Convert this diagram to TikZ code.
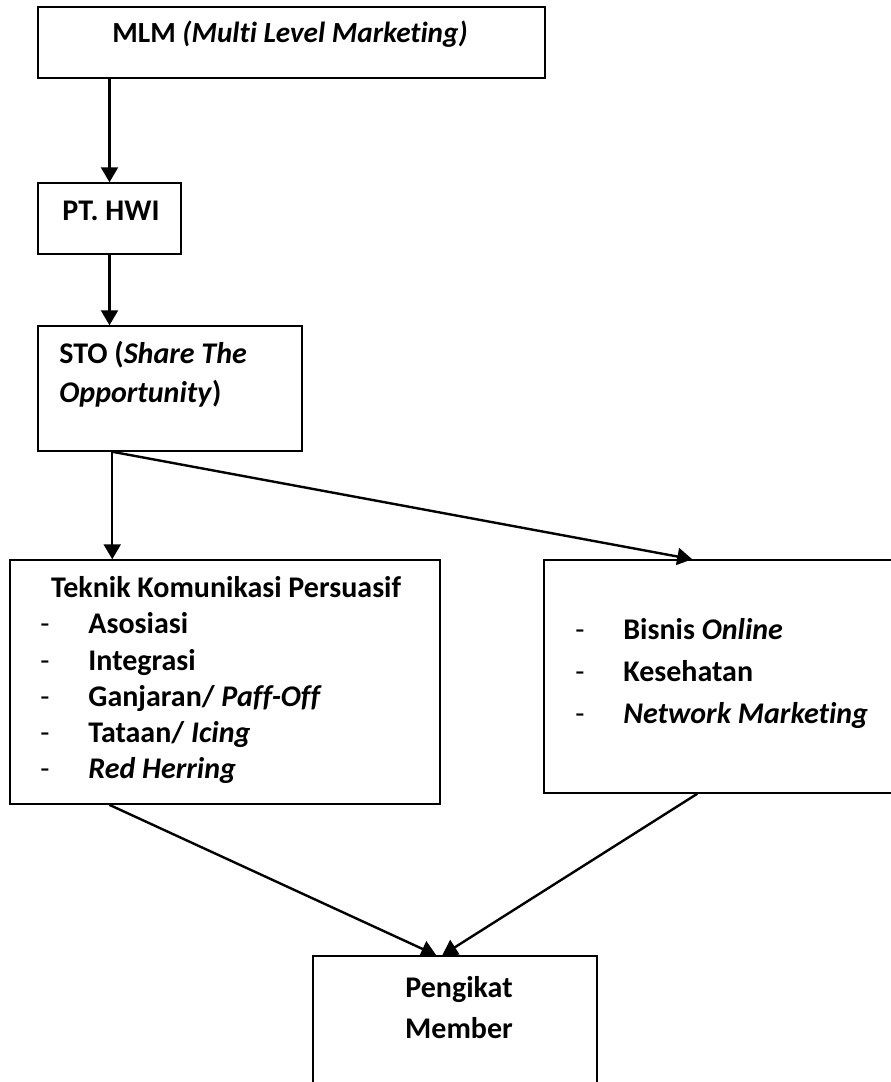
\documentclass[tikz,border=0pt]{standalone}
\usepackage{fontspec}
\setmainfont{Carlito}[Ligatures={TeX,NoCommon}]
\usetikzlibrary{arrows.meta, calc}

\begin{document}
\begin{tikzpicture}[x=0.5pt, y=-0.5pt,
    box/.style={draw, line width=0.75pt, rectangle, inner sep=0pt},
    txt/.style={font=\fontsize{15}{17}\selectfont\bfseries, inner sep=0pt},
    dashtxt/.style={font=\fontsize{15}{17}\selectfont, inner sep=0pt},
    arr/.style={-{Triangle[length=7.5pt,width=8.5pt]}, line width=1.2pt}]
    \useasboundingbox (0,0) rectangle (890,1082);

    % Draw the boxes
    \node[box, minimum width=253.5pt, minimum height=35.5pt] (mlm) at (291.5,42.5) {};
    \node[box, minimum width=71.5pt, minimum height=35.5pt] (pt) at (109.5,218.5) {};
    \node[box, minimum width=132pt, minimum height=62.5pt] (sto) at (170,388.5) {};
    \node[box, minimum width=215pt, minimum height=122pt] (teknik) at (225,682) {};
    \node[box, minimum width=188pt, minimum height=116.5pt] (produk) at (732,676.5) {};
    \node[box, minimum width=142pt, minimum height=72pt] (pengikat) at (455,1028) {};

    % Texts in the boxes
    \node[txt, font=\fontsize{14.6}{17}\selectfont\bfseries, anchor=base] (mlmtext) at (290,42) {MLM \textit{(Multi Level Marketing)}};
    \node[txt, anchor=base west] (pttext) at (62,220) {PT. HWI};
    \node[txt, anchor=base west] (stoa) at (59,363) {STO (\textit{Share The}};
    \node[txt, anchor=base west] (stob) at (59,402) {\textit{Opportunity})};

    \node[txt, anchor=base] (teknikhead) at (226,597) {Teknik Komunikasi Persuasif};
    \foreach \y/\name/\label in {633/ta/Asosiasi, 670/tb/Integrasi,
        706/tc/{Ganjaran/ \textit{Paff-Off}}, 742/td/{Tataan/ \textit{Icing}},
        778/te/\textit{Red Herring}} {
      \node[dashtxt, anchor=base west] (\name dash) at (40,\y) {-};
      \node[txt, anchor=base west] (\name) at (88,\y) {\label};
    }

    \foreach \y/\name/\label in {639/pa/{Bisnis \textit{Online}}, 681/pb/Kesehatan,
        723/pc/\textit{Network Marketing}} {
      \node[dashtxt, anchor=base west] (\name dash) at (575,\y) {-};
      \node[txt, anchor=base west] (\name) at (623,\y) {\label};
    }

    \node[txt, anchor=base] (pengikata) at (459,997) {Pengikat};
    \node[txt, anchor=base] (pengikatb) at (459,1038) {Member};

    % Draw the arrows
    \draw[arr] (pt.north |- mlm.south) -- (pt.north);
    \draw[arr] (pt.south) -- (pt.south |- sto.north);
    \coordinate (fork) at ([xshift=37.5pt]sto.south west);
    \draw[arr] (fork) -- (fork |- teknik.north);
    \draw[arr] (fork) -- ([xshift=74.5pt]produk.north west);
    \draw[arr] ([xshift=50pt]teknik.south west) -- ([xshift=62pt]pengikat.north west);
    \draw[arr] ([xshift=77pt]produk.south west) -- ([xshift=65pt]pengikat.north west);
\end{tikzpicture}
\end{document}
